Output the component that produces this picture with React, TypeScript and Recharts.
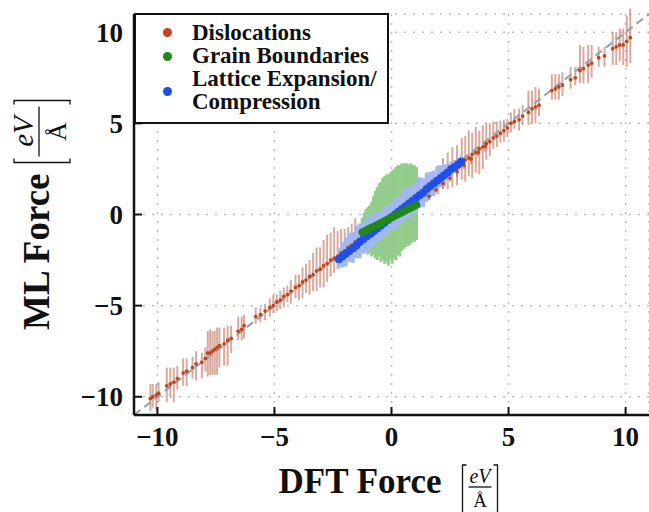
import React from 'react';
import { ScatterChart, Scatter, XAxis, YAxis, CartesianGrid, ErrorBar, ReferenceLine } from 'recharts';

// [DFT force, ML force, error below, error above]
const dislocations: [number, number, number, number][] = [
  [-10.3, -10.1, 0.7, 0.8], [-10.2, -10.0, 0.6, 0.7], [-10.05, -9.9, 0.8, 0.6], [-9.95, -9.8, 0.5, 0.6],
  [-9.6, -9.4, 0.9, 1.0], [-9.45, -9.3, 0.7, 0.9], [-9.3, -9.2, 1.1, 0.8], [-9.15, -9.0, 0.6, 0.7],
  [-8.9, -8.7, 0.7, 0.8], [-8.75, -8.6, 0.8, 0.7], [-8.5, -8.4, 0.6, 0.6], [-8.35, -8.2, 0.9, 0.7],
  [-8.1, -8.1, 0.9, 0.5], [-7.95, -7.9, 0.7, 0.6], [-7.85, -7.6, 1.3, 1.2], [-7.75, -7.6, 1.2, 1.3],
  [-7.65, -7.5, 1.3, 1.1], [-7.55, -7.4, 1.4, 1.0], [-7.45, -7.3, 1.5, 1.1], [-7.35, -7.2, 1.2, 1.0],
  [-7.15, -7.1, 1.2, 0.9], [-7.0, -6.9, 1.4, 0.8], [-6.85, -6.8, 0.8, 0.7], [-6.55, -6.4, 0.5, 0.8],
  [-6.4, -6.3, 0.6, 0.7], [-6.3, -6.1, 0.7, 0.6], [-5.8, -5.6, 0.4, 0.5], [-5.6, -5.5, 0.4, 0.4],
  [-5.4, -5.3, 0.5, 0.4], [-5.2, -5.1, 0.5, 0.5], [-5.05, -5.0, 0.4, 0.6], [-4.9, -4.8, 0.5, 0.4],
  [-4.75, -4.7, 0.5, 0.5], [-4.6, -4.5, 0.6, 0.5], [-4.45, -4.4, 0.4, 0.5], [-4.3, -4.2, 0.7, 0.6],
  [-4.1, -4.0, 0.6, 0.7], [-3.95, -3.9, 0.8, 0.6], [-3.8, -3.7, 0.9, 0.8], [-3.65, -3.6, 0.7, 0.9],
  [-3.5, -3.4, 1.0, 0.9], [-3.35, -3.3, 0.9, 1.2], [-3.2, -3.1, 1.1, 1.3], [-3.05, -3.0, 1.0, 1.2],
  [-2.9, -2.8, 1.2, 1.4], [-2.75, -2.7, 1.0, 1.6], [-2.6, -2.5, 0.9, 1.5], [-2.45, -2.4, 0.8, 1.7],
  [-2.3, -2.3, 0.7, 1.4], [-2.15, -2.1, 0.6, 1.3], [-2.0, -2.0, 0.7, 1.2], [-1.85, -1.8, 0.6, 1.1],
  [-1.7, -1.7, 0.5, 1.2], [-1.55, -1.5, 0.6, 1.3], [-1.4, -1.4, 0.5, 0.8], [-1.2, -1.2, 0.4, 0.6],
  [-1.0, -1.0, 0.4, 0.5], [-0.8, -0.8, 0.4, 0.5], [-0.6, -0.6, 0.4, 0.4], [-0.4, -0.45, 0.3, 0.4],
  [-0.2, -0.25, 0.4, 0.3], [0.0, -0.1, 0.3, 0.4], [0.2, 0.05, 0.4, 0.3], [0.4, 0.2, 0.4, 0.4],
  [0.6, 0.4, 0.3, 0.5], [0.8, 0.6, 0.4, 0.4], [1.0, 0.8, 0.5, 0.5], [1.2, 1.0, 0.4, 0.6],
  [1.4, 1.2, 0.5, 0.5], [1.6, 1.4, 0.6, 0.6], [1.8, 1.6, 0.5, 0.8], [2.0, 1.8, 0.7, 0.9],
  [2.2, 2.0, 0.6, 1.1], [2.4, 2.2, 0.8, 1.2], [2.6, 2.4, 0.9, 1.3], [2.8, 2.6, 1.0, 1.2],
  [3.0, 2.8, 0.9, 1.4], [3.15, 3.0, 1.2, 1.3], [3.3, 3.1, 1.0, 1.5], [3.45, 3.3, 1.3, 1.2],
  [3.6, 3.4, 1.1, 1.4], [3.75, 3.6, 1.4, 1.0], [3.9, 3.7, 1.2, 1.2], [4.05, 3.9, 0.9, 1.1],
  [4.2, 4.0, 0.8, 1.0], [4.35, 4.2, 0.6, 0.9], [4.5, 4.3, 0.6, 0.8], [4.65, 4.45, 0.5, 0.7],
  [4.8, 4.6, 0.6, 0.6], [4.95, 4.75, 0.5, 0.5], [5.1, 5.0, 0.5, 0.6], [5.25, 5.1, 0.4, 0.7],
  [5.45, 5.2, 0.6, 0.6], [5.6, 5.4, 0.5, 0.6], [5.85, 5.6, 0.7, 1.2], [6.0, 5.8, 0.8, 1.0],
  [6.15, 5.9, 0.9, 1.1], [6.3, 6.0, 0.6, 0.9], [6.85, 6.8, 0.5, 0.9], [7.0, 6.9, 0.6, 0.8],
  [7.15, 7.0, 0.7, 0.7], [7.3, 7.1, 0.6, 0.7], [7.65, 7.4, 0.5, 0.7], [7.85, 7.5, 0.4, 0.6],
  [8.05, 7.9, 0.7, 1.4], [8.2, 8.0, 0.8, 1.2], [8.4, 8.2, 1.0, 1.1], [8.55, 8.3, 0.8, 1.0],
  [8.85, 8.6, 0.5, 0.6], [9.1, 8.7, 0.6, 0.5], [9.45, 9.1, 0.9, 0.9], [9.6, 9.2, 1.0, 0.8],
  [9.75, 9.3, 0.9, 0.9], [9.9, 9.3, 1.1, 0.9], [10.05, 9.5, 1.4, 1.4], [10.2, 9.7, 1.4, 1.6],
  [1.6, 1.0, 0.2, 0.2], [1.9, 1.35, 0.2, 0.3], [2.2, 1.7, 0.3, 0.2], [2.5, 2.0, 0.2, 0.3],
  [2.8, 2.35, 0.3, 0.3], [3.1, 2.7, 0.2, 0.3], [3.4, 3.05, 0.3, 0.2], [3.7, 3.4, 0.2, 0.3],
  [4.0, 3.75, 0.3, 0.3],
];

const grainBoundaries: [number, number, number, number][] = [
  [-1.25, -0.98, 0.92, 0.78], [-1.17, -0.93, 1.07, 1.03], [-1.09, -0.88, 1.12, 1.18], [-1.01, -0.83, 1.37, 1.23],
  [-0.93, -0.77, 1.33, 1.27], [-0.85, -0.72, 1.58, 1.42], [-0.77, -0.67, 1.53, 1.67], [-0.69, -0.62, 1.78, 1.92],
  [-0.61, -0.57, 1.93, 2.07], [-0.53, -0.51, 1.79, 2.21], [-0.45, -0.46, 2.14, 2.26], [-0.37, -0.41, 2.09, 2.41],
  [-0.29, -0.36, 2.34, 2.46], [-0.21, -0.30, 2.30, 2.50], [-0.13, -0.25, 2.55, 2.45], [-0.05, -0.20, 2.30, 2.50],
  [0.03, -0.15, 2.55, 2.55], [0.11, -0.10, 2.30, 2.60], [0.19, -0.04, 2.46, 2.64], [0.27, 0.01, 2.21, 2.69],
  [0.35, 0.06, 2.36, 2.64], [0.43, 0.11, 2.11, 2.69], [0.51, 0.16, 2.06, 2.64], [0.59, 0.22, 2.02, 2.58],
  [0.67, 0.27, 1.97, 2.53], [0.75, 0.32, 2.02, 2.38], [0.83, 0.37, 1.97, 2.43], [0.91, 0.42, 1.92, 2.28],
  [0.99, 0.47, 1.97, 2.23], [1.07, 0.52, 1.92, 2.08],
];

const latticeExpansion: [number, number, number, number][] = [
  [-2.25, -2.45, 0.5, 0.6], [-2.1, -2.3, 0.6, 0.8], [-1.95, -2.15, 0.7, 0.9], [-1.8, -2.0, 0.6, 1.0],
  [-1.65, -1.85, 0.8, 0.9], [-1.5, -1.7, 0.7, 1.1], [-1.35, -1.5, 0.9, 1.0], [-1.2, -1.35, 0.8, 0.9],
  [-1.05, -1.2, 0.9, 1.1], [-0.9, -1.05, 0.8, 0.9], [-0.75, -0.9, 0.9, 1.0], [-0.6, -0.75, 0.7, 0.9],
  [-0.45, -0.6, 0.8, 0.8], [-0.3, -0.45, 0.7, 0.9], [-0.15, -0.3, 0.8, 0.8], [0.0, -0.15, 0.7, 0.8],
  [0.15, 0.0, 0.8, 0.9], [0.3, 0.15, 0.7, 0.8], [0.45, 0.3, 0.8, 0.9], [0.6, 0.45, 0.7, 1.0],
  [0.75, 0.6, 0.8, 0.9], [0.9, 0.75, 0.7, 0.8], [1.05, 0.9, 0.8, 0.9], [1.2, 1.05, 0.7, 1.0],
  [1.35, 1.2, 0.8, 0.8], [1.5, 1.4, 0.7, 0.9], [1.65, 1.55, 0.6, 0.8], [1.8, 1.7, 0.7, 0.7],
  [1.95, 1.85, 0.6, 0.8], [2.1, 2.0, 0.5, 0.7], [2.25, 2.15, 0.6, 0.6], [2.4, 2.3, 0.4, 0.5],
  [2.55, 2.5, 0.4, 0.4], [2.7, 2.6, 0.3, 0.4], [2.85, 2.75, 0.3, 0.3], [2.97, 2.9, 0.2, 0.3],
];

const seriesNames = ['Dislocations', 'Grain Boundaries', 'Lattice Expansion/', 'Compression'];
const xTicks = [-10, -5, 0, 5, 10];
const yTicks = [-10, -5, 0, 5, 10];
const axisDomain: [number, number] = [-11, 11];

const SERIF = "'Liberation Serif', 'Times New Roman', Times, serif";
const C_DIS = '#c4461f';
const C_DIS_ERR = 'rgba(188, 108, 88, 0.58)';
const C_GB = '#1f8a1a';
const C_GB_ERR = '#94cc8c';
const C_LAT = '#1f4fe6';
const C_LAT_ERR = '#a3b7f4';

const toRows = (arr: [number, number, number, number][]) =>
  arr.map(([x, y, lo, hi]) => ({ x, y, err: [lo, hi] }));

const disData = toRows(dislocations);
const gbData = toRows(grainBoundaries);
const latData = toRows(latticeExpansion);

const fmt = (v: number) => (v < 0 ? '\u2212' + Math.abs(v) : String(v));
const blank = () => '';
const noShape = () => <g />;
const dot = (r: number, fill: string) => (p: any) => <circle cx={p.cx} cy={p.cy} r={r} fill={fill} />;

const tickStyle = { fontSize: 27, fontWeight: 'bold', fill: '#111', fontFamily: SERIF };

// bracketed fraction eV / Å ; x = left bracket, y = fraction bar
const Fraction = ({ x, y, w, up, down, f1, f2 }: { x: number; y: number; w: number; up: number; down: number; f1: number; f2: number }) => (
  <g>
    <path d={`M${x + 4},${y - up} L${x},${y - up} L${x},${y + down} L${x + 4},${y + down}`} stroke="#111" strokeWidth={1.3} fill="none" />
    <text x={x + w / 2} y={y - f1 * 0.22} textAnchor="middle" fontFamily={SERIF} fontStyle="italic" fontSize={f1} fill="#111">eV</text>
    <line x1={x + 6} x2={x + w - 6} y1={y} y2={y} stroke="#111" strokeWidth={1.3} />
    <text x={x + w / 2} y={y + f2 * 1.05} textAnchor="middle" fontFamily={SERIF} fontSize={f2} fill="#111">Å</text>
    <path d={`M${x + w - 4},${y - up} L${x + w},${y - up} L${x + w},${y + down} L${x + w - 4},${y + down}`} stroke="#111" strokeWidth={1.3} fill="none" />
  </g>
);

const XTitle = (props: any) => {
  const vb = props.viewBox;
  const cx = vb.x + vb.width / 2;
  const base = vb.y + 78;
  return (
    <g>
      <text x={cx + 50} y={base} textAnchor="end" fontFamily={SERIF} fontWeight="bold" fontSize={35} fill="#111">DFT Force</text>
      <Fraction x={cx + 71} y={base - 6} w={35} up={22} down={30} f1={20} f2={19} />
    </g>
  );
};

const YTitle = (props: any) => {
  const vb = props.viewBox;
  const cy = vb.y + vb.height / 2;
  return (
    <g transform={`translate(49, ${cy}) rotate(-90)`}>
      <text x={41} y={0} textAnchor="end" fontFamily={SERIF} fontWeight="bold" fontSize={37} fill="#111">ML Force</text>
      <Fraction x={52} y={-10} w={62} up={25} down={31} f1={29} f2={26} />
    </g>
  );
};

const legendItems = [
  { top: 6, dotTop: 13, color: C_DIS, lines: [seriesNames[0]] },
  { top: 29, dotTop: 37, color: C_GB, lines: [seriesNames[1]] },
  { top: 52, dotTop: 72, color: C_LAT, lines: [seriesNames[2], seriesNames[3]] },
];

export default function App() {
  return (
    <div style={{ position: 'absolute', left: 0, top: 0, width: 649, height: 512, background: '#fff', overflow: 'hidden' }}>
      <ScatterChart width={649} height={512} margin={{ top: 14, right: 0, bottom: 0, left: 0 }}>
        <CartesianGrid stroke="#bdbdbd" strokeWidth={1.5} strokeDasharray="2 7" />
        <XAxis
          type="number" dataKey="x" domain={axisDomain} ticks={xTicks} allowDataOverflow
          height={97} tickSize={-8} tickMargin={20} tickFormatter={fmt} tick={tickStyle}
          axisLine={{ stroke: '#111', strokeWidth: 2.5 }} tickLine={{ stroke: '#111', strokeWidth: 2 }}
          label={{ content: XTitle }}
        />
        <XAxis
          xAxisId="top" orientation="top" type="number" dataKey="x" domain={axisDomain} ticks={xTicks} allowDataOverflow
          height={0} tickSize={-8} tickFormatter={blank}
          axisLine={{ stroke: '#111', strokeWidth: 2.5 }} tickLine={{ stroke: '#111', strokeWidth: 2 }}
        />
        <YAxis
          type="number" dataKey="y" domain={axisDomain} ticks={yTicks} allowDataOverflow
          width={134} tickSize={-8} tickMargin={19} tickFormatter={fmt} tick={tickStyle}
          axisLine={{ stroke: '#111', strokeWidth: 2.5 }} tickLine={{ stroke: '#111', strokeWidth: 2 }}
          label={{ content: YTitle }}
        />
        <YAxis
          yAxisId="right" orientation="right" type="number" dataKey="y" domain={axisDomain} ticks={yTicks} allowDataOverflow
          width={0} tickSize={-8} tickFormatter={blank}
          axisLine={{ stroke: '#111', strokeWidth: 2.5 }} tickLine={{ stroke: '#111', strokeWidth: 2 }}
        />
        <Scatter name="disErr" data={disData} shape={noShape} isAnimationActive={false}>
          <ErrorBar dataKey="err" direction="y" width={0} stroke={C_DIS_ERR} strokeWidth={2} isAnimationActive={false} />
        </Scatter>
        <Scatter name="gbErr" data={gbData} shape={noShape} isAnimationActive={false}>
          <ErrorBar dataKey="err" direction="y" width={0} stroke={C_GB_ERR} strokeWidth={3} isAnimationActive={false} />
        </Scatter>
        <Scatter name="latErr" data={latData} shape={noShape} isAnimationActive={false}>
          <ErrorBar dataKey="err" direction="y" width={0} stroke={C_LAT_ERR} strokeWidth={3.6} isAnimationActive={false} />
        </Scatter>
        <ReferenceLine
          segment={[{ x: -11, y: -11 }, { x: 11, y: 11 }]}
          stroke="#94a0a6" strokeWidth={2} strokeDasharray="8 5" ifOverflow="visible"
        />
        <Scatter name={seriesNames[0]} data={disData} shape={dot(1.9, C_DIS)} isAnimationActive={false} />
        <Scatter name={seriesNames[2]} data={latData} shape={dot(4, C_LAT)} isAnimationActive={false} />
        <Scatter name={seriesNames[1]} data={gbData} shape={dot(3.8, C_GB)} isAnimationActive={false} />
      </ScatterChart>
      <div
        style={{
          position: 'absolute', left: 134, top: 13, width: 255, height: 111, boxSizing: 'border-box',
          border: '2.5px solid #111', background: '#fff', fontFamily: SERIF, fontWeight: 'bold', fontSize: 23, color: '#111',
        }}
      >
        {legendItems.map((it, i) => (
          <React.Fragment key={i}>
            <div style={{ position: 'absolute', left: 27, top: it.dotTop, width: 9, height: 9, borderRadius: '50%', background: it.color }} />
            <div style={{ position: 'absolute', left: 56, top: it.top, lineHeight: '23px', whiteSpace: 'nowrap' }}>
              {it.lines.map((l, j) => <div key={j}>{l}</div>)}
            </div>
          </React.Fragment>
        ))}
      </div>
    </div>
  );
}
